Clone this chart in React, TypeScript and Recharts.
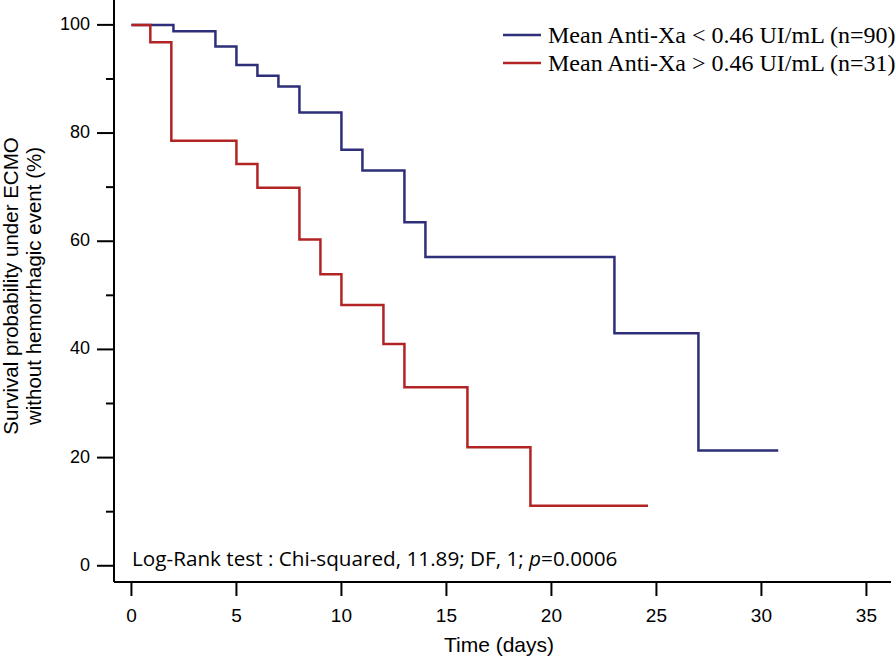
import React from 'react';
import { LineChart, Line, XAxis, YAxis, Customized } from 'recharts';

// Kaplan-Meier steps: time (days) and survival (%)
const lowDays = [0, 2, 4, 5, 6, 7, 8, 10, 11, 13, 14, 23, 27, 30.8];
const lowSurv = [100, 98.8, 96.0, 92.6, 90.6, 88.6, 83.8, 76.9, 73.1, 63.5, 57.1, 43.0, 21.3, 21.3];
const highDays = [0, 0.9, 1.9, 5, 6, 8, 9, 10, 12, 13, 16, 19, 24.6];
const highSurv = [100, 96.8, 78.6, 74.3, 69.9, 60.3, 53.9, 48.2, 41.0, 33.0, 21.9, 11.1, 11.1];

const xTicks = [0, 5, 10, 15, 20, 25, 30, 35];
const yTicks = [0, 10, 20, 30, 40, 50, 60, 70, 80, 90, 100];

const seriesNames = ['Mean Anti-Xa < 0.46 UI/mL (n=90)', 'Mean Anti-Xa > 0.46 UI/mL (n=31)'];
const seriesColors = ['#2e2e7a', '#b22424'];

const lowData = lowDays.map((t, i) => ({ t, s: lowSurv[i] }));
const highData = highDays.map((t, i) => ({ t, s: highSurv[i] }));

const sans = 'Arial, "Liberation Sans", sans-serif';
const serif = '"Liberation Serif", "Times New Roman", serif';

function YTick({ x, y, payload }: any) {
  const major = payload.value % 20 === 0;
  return (
    <g>
      <line x1={x - (major ? 17 : 8)} x2={x} y1={y} y2={y} stroke="#000" strokeWidth={2} />
      {major && (
        <text x={x - 24} y={y} dy={5} textAnchor="end" fontSize={18} fontFamily={sans} fill="#000">
          {payload.value}
        </text>
      )}
    </g>
  );
}

function XTick({ x, y, payload }: any) {
  return (
    <g>
      <line x1={x} x2={x} y1={y} y2={y + 14} stroke="#000" strokeWidth={2} />
      <text x={x} y={y + 40} textAnchor="middle" fontSize={19} fontFamily={sans} fill="#000">
        {payload.value}
      </text>
    </g>
  );
}

function Extras() {
  return (
    <g fill="#000">
      {seriesNames.map((n, i) => (
        <g key={n}>
          <line x1={503} x2={541} y1={35 + i * 28} y2={35 + i * 28} stroke={seriesColors[i]} strokeWidth={2.5} />
          <text x={548} y={43 + i * 28} fontSize={24} fontFamily={serif}>{n}</text>
        </g>
      ))}
      <g fontFamily={sans} fontSize={20.5}>
        <text transform="translate(18,286) rotate(-90)" textAnchor="middle">
          Survival probability under ECMO
        </text>
        <text transform="translate(41,286) rotate(-90)" textAnchor="middle">
          without hemorrhagic event (%)
        </text>
        <text x={499} y={652} fontSize={21} textAnchor="middle">Time (days)</text>
      </g>
      <text x={132} y={566} fontSize={20.7} fontFamily='"Open Sans", sans-serif'>
        Log-Rank test : Chi-squared, 11.89; DF, 1; <tspan fontStyle="italic">p</tspan>=0.0006
      </text>
    </g>
  );
}

export default function App() {
  return (
    <div style={{ position: 'absolute', left: 0, top: 0, width: 896, height: 657, background: '#fff' }}>
      <LineChart width={896} height={657} margin={{ top: 0, right: 5, bottom: 0, left: 0 }}>
        <XAxis
          type="number"
          dataKey="t"
          domain={[-0.83, 36.17]}
          ticks={xTicks}
          allowDataOverflow
          height={75}
          tickSize={0}
          tickMargin={0}
          tick={<XTick />}
          axisLine={{ stroke: '#000', strokeWidth: 2 }}
        />
        <YAxis
          type="number"
          dataKey="s"
          domain={[-3, 104.6]}
          ticks={yTicks}
          allowDataOverflow
          width={114}
          tickSize={0}
          tickMargin={0}
          tick={<YTick />}
          axisLine={{ stroke: '#000', strokeWidth: 2 }}
        />
        <Line
          data={lowData}
          dataKey="s"
          name={seriesNames[0]}
          type="stepAfter"
          stroke={seriesColors[0]}
          strokeWidth={2.5}
          dot={false}
          isAnimationActive={false}
        />
        <Line
          data={highData}
          dataKey="s"
          name={seriesNames[1]}
          type="stepAfter"
          stroke={seriesColors[1]}
          strokeWidth={2.5}
          dot={false}
          isAnimationActive={false}
        />
        <Customized component={<Extras />} />
      </LineChart>
    </div>
  );
}
